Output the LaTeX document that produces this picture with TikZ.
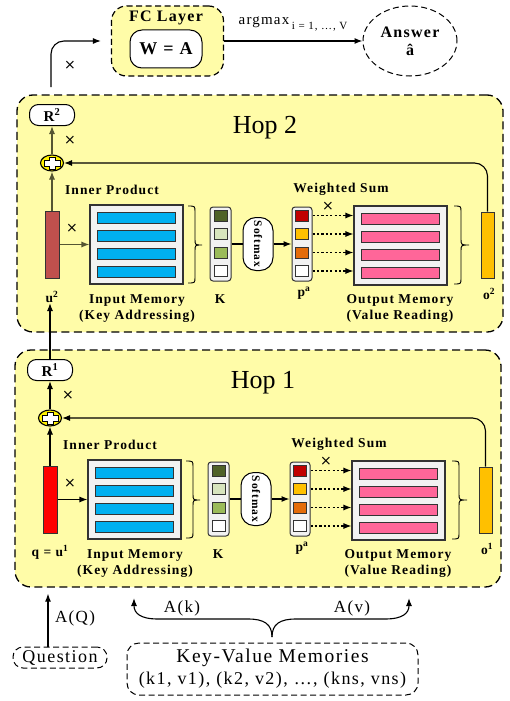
\documentclass[tikz,border=0pt]{standalone}
\usepackage{fontspec}
\setmainfont{Liberation Serif}[LetterSpace=8]
\newfontfamily\plainrm{Liberation Serif}
\newfontfamily\markfont{DejaVu Sans}
\usetikzlibrary{arrows.meta,shapes.geometric,calc}
\definecolor{hopyellow}{RGB}{255,252,168}
\definecolor{memgray}{RGB}{242,242,242}
\definecolor{keyblue}{RGB}{0,176,240}
\definecolor{valpink}{RGB}{255,102,153}
\definecolor{ured}{RGB}{192,80,77}
\definecolor{qred}{RGB}{255,0,0}
\definecolor{ogold}{RGB}{255,192,0}
\definecolor{kA}{RGB}{79,98,40}
\definecolor{kB}{RGB}{215,228,189}
\definecolor{kC}{RGB}{155,187,89}
\definecolor{pA}{RGB}{192,0,0}
\definecolor{pB}{RGB}{255,192,0}
\definecolor{pC}{RGB}{228,108,10}
\definecolor{olivearr}{RGB}{85,85,50}
\newcommand\fsz[1]{\fontsize{#1}{#1}\selectfont}
\tikzset{
  arr/.style={-{Latex[length=8pt,width=6pt]}, line width=1.1pt},
  dotarr/.style={-{Latex[length=8pt,width=6pt]}, dash pattern=on 2.2pt off 2.2pt, line width=1.1pt},
  hopbox/.style={draw, dash pattern=on 8pt off 4.5pt, line width=1.3pt, fill=hopyellow, rounded corners=16pt, inner sep=0},
  dashbox/.style={draw, dash pattern=on 6pt off 3.5pt, line width=1pt, inner sep=0},
  rbox/.style={draw, fill=white, rounded corners=9pt, minimum width=45pt, minimum height=21pt, inner sep=0, line width=1pt, font=\bfseries\fsz{15}},
  memframe/.style={draw=black!80, fill=memgray, line width=1.1pt, minimum width=93pt, minimum height=79pt, inner sep=0},
  keybar/.style={draw=black!80, fill=keyblue, minimum width=78pt, minimum height=11pt, inner sep=0, line width=0.9pt},
  valbar/.style={draw=black!80, fill=valpink, minimum width=78pt, minimum height=11pt, inner sep=0, line width=0.9pt},
  colbox/.style={draw=black!80, fill=memgray, rounded corners=3pt, minimum width=21pt, minimum height=74pt, inner sep=0, line width=1pt},
  sq/.style={draw=black!80, minimum width=13pt, minimum height=11pt, inner sep=0, line width=0.8pt},
  vbar/.style={draw=black!80, minimum width=14pt, minimum height=67pt, inner sep=0, line width=1pt},
  lab/.style={font=\bfseries\fsz{13.5}, inner sep=0},
  lab2/.style={font=\bfseries\fontsize{13.5}{16}\selectfont, inner sep=0, align=center},
  timesmark/.style={font=\markfont\fsz{14}, inner sep=0},
  softbox/.style={draw, fill=white, rounded corners=13pt, minimum width=30pt, minimum height=53pt, inner sep=0, line width=1pt},
  plusnode/.style={ellipse, draw, fill=yellow, minimum width=23pt, minimum height=16pt, inner sep=0, line width=1.1pt},
  rtext/.style={inner sep=0}
}
% #1 prefix, #2 bar colour, #3 u label, #4 hop number, #5 line colour
\newcommand\hopstuff[5]{%
  \node[hopbox, minimum width=486pt, minimum height=237pt] (#1box) at (260,213.5) {};
  \node[rtext, font=\plainrm\fsz{26}] (#1title) at (265,128) {Hop #4};
  \node[rbox] (#1R) at (52,115) {R\textsuperscript{#4}};
  \node[plusnode] (#1plus) at (52,163) {};
  \draw[fill=white, line width=0.8pt, shift={(#1plus.center)}] (-3,-6) -- (3,-6) -- (3,-3) -- (8,-3) -- (8,3) -- (3,3) -- (3,6) -- (-3,6) -- (-3,3) -- (-8,3) -- (-8,-3) -- (-3,-3) -- cycle;
  \node[vbar, fill=#2] (#1u) at (52,244.5) {};
  \node[lab] (#1ulab) at (52,297) {#3};
  \node[lab] (#1ip) at (112,190) {Inner Product};
  \node[memframe] (#1mem) at (136.5,244.5) {};
  \node[keybar] (#1kb1) at (136.5,217.5) {};
  \node[keybar] (#1kb2) at (136.5,235.5) {};
  \node[keybar] (#1kb3) at (136.5,253.5) {};
  \node[keybar] (#1kb4) at (136.5,271.5) {};
  \node[lab2] (#1memlab) at (137,309) {Input Memory\\(Key Addressing)};
  \draw[line width=0.9pt] (188,206) .. controls (195,206) and (195,206) .. (195,212) -- (195,239) .. controls (195,245) and (195,245) .. (202,245) .. controls (195,245) and (195,245) .. (195,251) -- (195,277) .. controls (195,283) and (195,283) .. (188,283);
  \node[colbox] (#1K) at (220.5,244) {};
  \node[sq, fill=kA] (#1ks1) at (220.5,215.5) {};
  \node[sq, fill=kB] (#1ks2) at (220.5,234) {};
  \node[sq, fill=kC] (#1ks3) at (220.5,252.5) {};
  \node[sq, fill=white] (#1ks4) at (220.5,271) {};
  \node[lab] (#1Klab) at (220,299) {K};
  \node[softbox] (#1soft) at (258,244) {};
  \node[rtext, rotate=-90, font=\bfseries\fsz{11.5}] (#1softlab) at (#1soft.center) {Softmax};
  \node[colbox, minimum width=20pt] (#1P) at (302,244) {};
  \node[sq, fill=pA] (#1ps1) at (302,215.5) {};
  \node[sq, fill=pB] (#1ps2) at (302,234) {};
  \node[sq, fill=pC] (#1ps3) at (302,252.5) {};
  \node[sq, fill=white] (#1ps4) at (302,271) {};
  \node[lab] (#1plab) at (304,293) {p\textsuperscript{a}};
  \node[lab] (#1ws) at (341,189) {Weighted Sum};
  \node[memframe] (#1out) at (400.5,245.5) {};
  \node[valbar] (#1vb1) at (400.5,218.5) {};
  \node[valbar] (#1vb2) at (400.5,236.5) {};
  \node[valbar] (#1vb3) at (400.5,254.5) {};
  \node[valbar] (#1vb4) at (400.5,272.5) {};
  \node[lab2] (#1outlab) at (400,309) {Output Memory\\(Value Reading)};
  \draw[line width=0.9pt] (454,206) .. controls (461,206) and (461,206) .. (461,212) -- (461,239) .. controls (461,245) and (461,245) .. (469,245) .. controls (461,245) and (461,245) .. (461,251) -- (461,278) .. controls (461,284) and (461,284) .. (454,284);
  \node[vbar, fill=ogold, minimum width=13pt, minimum height=66pt] (#1o) at (487.5,245) {};
  \node[lab] (#1olab) at (489,294) {o\textsuperscript{#4}};
  \node[timesmark] (#1x1) at (70,140) {×};
  \node[timesmark] (#1x2) at (72,228) {×};
  \node[timesmark] (#1x3) at (328,206) {×};
  % connectors
  \draw[arr, draw=#5] (#1plus.north) -- (#1R.south);
  \draw[arr, draw=#5] (#1u.north) -- (#1plus.south);
  \draw[arr, draw=#5] (#1u.east) -- (#1mem.west);
  \draw[arr, rounded corners=13pt] (#1o.north) |- (#1plus.east);
  \draw[line width=1.1pt] (#1K.east) -- (#1soft.west);
  \draw[arr] (#1soft.east) -- (#1P.west);
  \draw[dotarr] (#1ps1.center -| #1P.east) -- (#1ps1.center -| #1out.west);
  \draw[dotarr] (#1ps2.center -| #1P.east) -- (#1ps2.center -| #1out.west);
  \draw[dotarr] (#1ps3.center -| #1P.east) -- (#1ps3.center -| #1out.west);
  \draw[dotarr] (#1ps4.center -| #1P.east) -- (#1ps4.center -| #1out.west);
}
\begin{document}
\begin{tikzpicture}[x=1pt,y=-1pt]
  \useasboundingbox (0,0) rectangle (510,701);
  \fill[white] (0,0) rectangle (510,701);
  % top
  \node[dashbox, fill=hopyellow, rounded corners=15pt, minimum width=112pt, minimum height=70pt, line width=1.2pt] (fc) at (167.5,41) {};
  \node[rtext, font=\bfseries\fsz{16}] (fctitle) at (166,18) {FC Layer};
  \node[draw, fill=white, rounded corners=12pt, minimum width=72pt, minimum height=38pt, inner sep=0, line width=1pt, font=\bfseries\fsz{18}] (wa) at (166,49) {W = A};
  \node[dashbox, ellipse, minimum width=94pt, minimum height=70pt] (ans) at (410,41) {};
  \node[rtext, font=\bfseries\fontsize{16}{18}\selectfont, align=center] (anslab) at (410,41) {Answer\\â};
  \draw[arr] (fc.east) -- (ans.west);
  \node[rtext, font=\fsz{15}] (argmax) at (293,24) {argmax\,\raisebox{-5pt}{\fsz{11}i = 1, …, V}};
  \coordinate (topstart) at (51,87);
  \draw[arr, rounded corners=13pt] (topstart) |- ([xshift=-10pt]fc.west);
  \node[timesmark] (xtop) at (70,65) {×};
  % hops
  \hopstuff{hB}{ured}{u\textsuperscript{2}}{2}{olivearr}
  \begin{scope}[shift={(-2,255)}]
    \hopstuff{hA}{qred}{q = u\textsuperscript{1}}{1}{black}
  \end{scope}
  \draw[arr] (hAR.north) -- (hAR.north |- hBulab.south);
  % bottom
  \node[dashbox, rounded corners=10pt, minimum width=94pt, minimum height=21pt, font=\fsz{18}] (q) at (60,657.5) {Question};
  \draw[arr, shorten >=6pt] ([xshift=-12pt]q.north) -- ([xshift=-12pt]q.north |- hAbox.south);
  \node[rtext, font=\fsz{17}] (aq) at (75,618) {A(Q)};
  \node[dashbox, rounded corners=12pt, minimum width=291pt, minimum height=52pt, font=\fontsize{18}{22}\selectfont, align=center] (kv) at (272.5,669) {{\fsz{19.5}Key-Value Memories}\\(k1, v1), (k2, v2), …, (kns, vns)};
  \coordinate (kvtip) at (272,637);
  \coordinate (akend) at (134,598);
  \coordinate (avend) at (409,598);
  \draw[arr] (kvtip) .. controls (272,624) and (264,619) .. (248,619) -- (158,619) .. controls (140,619) and (134,613) .. (akend);
  \draw[arr] (kvtip) .. controls (272,624) and (280,619) .. (296,619) -- (385,619) .. controls (403,619) and (409,613) .. (avend);
  \node[rtext, font=\fsz{17}] (ak) at (182,608) {A(k)};
  \node[rtext, font=\fsz{17}] (av) at (352,608) {A(v)};
\end{tikzpicture}
\end{document}
